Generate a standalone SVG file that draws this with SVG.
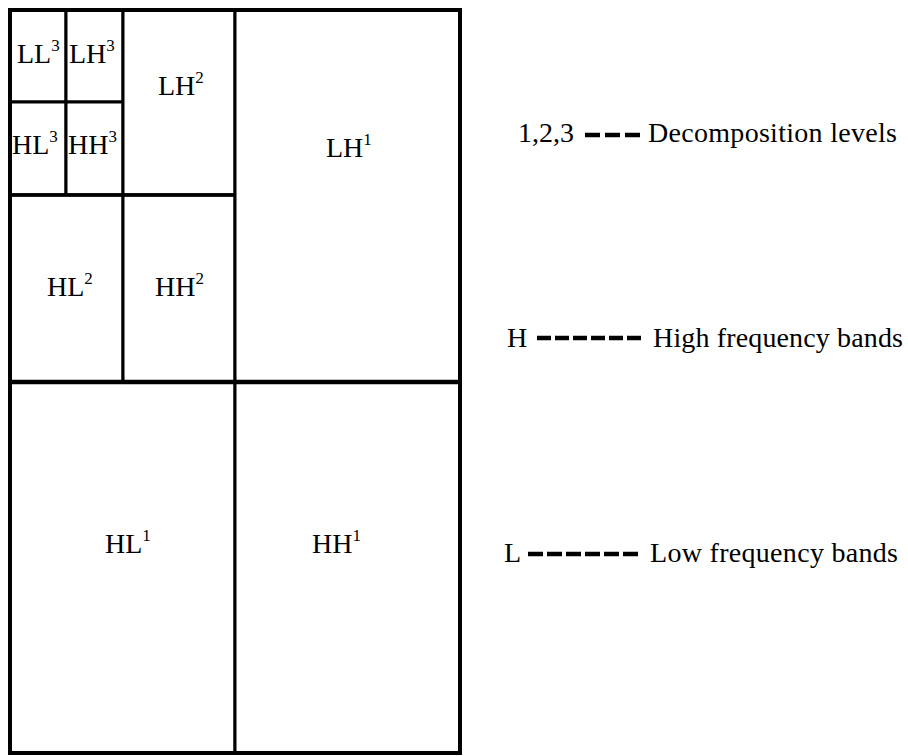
<svg xmlns="http://www.w3.org/2000/svg" width="908" height="756" viewBox="0 0 908 756">
<style>
.cell{fill:#fff;stroke:#000;stroke-width:3}
.t{font-family:"Liberation Serif","Times New Roman",serif;font-size:28px;fill:#000}
.sup{font-size:17px}
.frame{fill:none;stroke:#000;stroke-width:4}
.dash{stroke:#000;stroke-width:4.5}
</style>
<rect width="908" height="756" fill="#fff"/>
<g id="LL3"><rect class="cell" x="10" y="10" width="56" height="92"/><text class="t" x="17" y="63">LL<tspan class="sup" dy="-12">3</tspan></text></g>
<g id="LH3"><rect class="cell" x="66" y="10" width="57" height="92"/><text class="t" x="69" y="63">LH<tspan class="sup" dy="-12">3</tspan></text></g>
<g id="HL3"><rect class="cell" x="10" y="102" width="56" height="93"/><text class="t" x="12" y="154">HL<tspan class="sup" dy="-12">3</tspan></text></g>
<g id="HH3"><rect class="cell" x="66" y="102" width="57" height="93"/><text class="t" x="68" y="154">HH<tspan class="sup" dy="-12">3</tspan></text></g>
<g id="LH2"><rect class="cell" x="123" y="10" width="112" height="185"/><text class="t" x="158" y="95">LH<tspan class="sup" dy="-12">2</tspan></text></g>
<g id="HL2"><rect class="cell" x="10" y="195" width="113" height="187"/><text class="t" x="47" y="296">HL<tspan class="sup" dy="-12">2</tspan></text></g>
<g id="HH2"><rect class="cell" x="123" y="195" width="112" height="187"/><text class="t" x="155" y="296">HH<tspan class="sup" dy="-12">2</tspan></text></g>
<g id="LH1"><rect class="cell" x="235" y="10" width="225" height="372"/><text class="t" x="326" y="157">LH<tspan class="sup" dy="-12">1</tspan></text></g>
<g id="HL1"><rect class="cell" x="10" y="382" width="225" height="371"/><text class="t" x="105" y="553">HL<tspan class="sup" dy="-12">1</tspan></text></g>
<g id="HH1"><rect class="cell" x="235" y="382" width="225" height="371"/><text class="t" x="312" y="553">HH<tspan class="sup" dy="-12">1</tspan></text></g>
<g id="frame">
<rect class="frame" x="10" y="10" width="450" height="743"/>
<line x1="10" y1="382" x2="460" y2="382" stroke="#000" stroke-width="4.5"/>
<line x1="10" y1="195" x2="235" y2="195" stroke="#000" stroke-width="3.5"/>
</g>
<g id="connectors">
<line class="dash" x1="585" y1="135" x2="640" y2="135" stroke-dasharray="15 5"/>
<line class="dash" x1="537" y1="338" x2="641" y2="338" stroke-dasharray="14 4"/>
<line class="dash" x1="528" y1="554" x2="638" y2="554" stroke-dasharray="15 4"/>
</g>
<g id="legend-levels"><text class="t" x="518" y="142">1,2,3</text><text class="t" x="648" y="142" textLength="249">Decomposition levels</text></g>
<g id="legend-high"><text class="t" x="507" y="347">H</text><text class="t" x="653" y="347" textLength="250">High frequency bands</text></g>
<g id="legend-low"><text class="t" x="504" y="562">L</text><text class="t" x="650" y="562" textLength="248">Low frequency bands</text></g>
</svg>
